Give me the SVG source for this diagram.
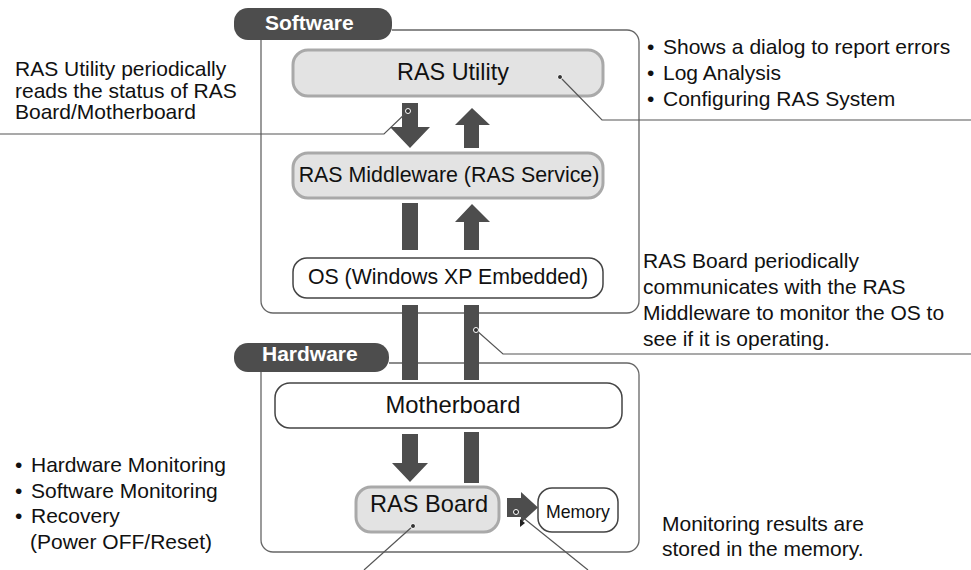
<svg xmlns="http://www.w3.org/2000/svg" width="971" height="570" viewBox="0 0 971 570">
<style>
text{font-family:"Liberation Sans",Arial,Helvetica,sans-serif;fill:#111}
.lbl{font-size:21px}
.tab{font-size:21px;font-weight:bold;fill:#fff}
.frame{fill:none;stroke:#666;stroke-width:1.3}
.gbox{fill:#e3e3e3;stroke:#a9a9a9;stroke-width:3}
.wbox{fill:#fff;stroke:#444;stroke-width:1.5}
.arr{fill:#4d4d4d}
.call{fill:none;stroke:#555;stroke-width:1.2}
.dot{fill:#333;stroke:#fff;stroke-width:1}
.tabbg{fill:#4d4d4d}
</style>
<rect width="971" height="570" fill="#fff"/>

<g id="software-group">
  <path class="frame" d="M392,30 H627 A12,12 0 0 1 639,42 V301 A12,12 0 0 1 627,313 H273 A12,12 0 0 1 261,301 V40"/>
  <rect class="tabbg" x="234" y="8" width="158" height="32" rx="14"/>
  <text class="tab" x="265" y="30">Software</text>
</g>

<g id="hardware-group">
  <path class="frame" d="M389,363 H627 A12,12 0 0 1 639,375 V540 A12,12 0 0 1 627,552 H273 A12,12 0 0 1 261,540 V372"/>
  <rect class="tabbg" x="234" y="343" width="155" height="29" rx="14"/>
  <text class="tab" x="262" y="361">Hardware</text>
</g>

<g id="connectors">
  <polygon class="arr" points="402,103 418,103 418,127 430,127 410,148 390,127 402,127"/>
  <polygon class="arr" points="472,108 490,125 479,125 479,148 464,148 464,125 455,125"/>
  <rect class="arr" x="402" y="203" width="16" height="47"/>
  <polygon class="arr" points="472,204 490,222 479,222 479,250 464,250 464,222 455,222"/>
  <rect class="arr" x="402" y="305" width="16" height="75"/>
  <rect class="arr" x="464" y="305" width="15" height="75"/>
  <polygon class="arr" points="402,434 418,434 418,463 428,463 410,482 392,463 402,463"/>
  <rect class="arr" x="464" y="432" width="15" height="51"/>
  <polygon class="arr" points="507,498 521,498 521,492 538,507.5 521,523 521,517 507,517"/>
  <polygon fill="#222" points="520,519 525,523 520,527"/>
</g>

<g id="ras-utility">
  <rect class="gbox" x="293" y="50" width="310" height="46" rx="15"/>
  <text class="lbl" x="453" y="80" text-anchor="middle" style="font-size:23.4px">RAS Utility</text>
</g>

<g id="ras-middleware">
  <rect class="gbox" x="293" y="153" width="310" height="45" rx="15"/>
  <text class="lbl" x="449" y="182" text-anchor="middle" style="font-size:21.4px">RAS Middleware (RAS Service)</text>
</g>

<g id="os">
  <rect class="wbox" x="293" y="258" width="310" height="40" rx="14"/>
  <text class="lbl" x="448" y="284" text-anchor="middle" style="font-size:21.3px">OS (Windows XP Embedded)</text>
</g>

<g id="motherboard">
  <rect class="wbox" x="275" y="383" width="347" height="45" rx="15"/>
  <text class="lbl" x="453" y="413" text-anchor="middle" style="font-size:23.8px">Motherboard</text>
</g>

<g id="ras-board">
  <rect class="gbox" x="356" y="487" width="143" height="45" rx="15"/>
  <text class="lbl" x="429" y="512" text-anchor="middle" style="font-size:23.6px">RAS Board</text>
</g>

<g id="memory">
  <rect class="wbox" x="538" y="488" width="80" height="44" rx="14"/>
  <text class="lbl" x="578" y="518" text-anchor="middle" style="font-size:17.7px">Memory</text>
</g>

<g id="callouts">
  <polyline class="call" points="560,77 602,120 971,120"/>
  <polyline class="call" points="408,111 384,134 0,134"/>
  <polyline class="call" points="476,330 503,354 971,354"/>
  <polyline class="call" points="413,526 364,570"/>
  <polyline class="call" points="516,512 588,570"/>
  <circle class="dot" cx="560" cy="77" r="2.5"/>
  <circle class="dot" cx="408" cy="111" r="2.5"/>
  <circle class="dot" cx="476" cy="330" r="2.5"/>
  <circle class="dot" cx="413" cy="526" r="2.5"/>
  <circle class="dot" cx="516" cy="512" r="2.5"/>
</g>

<g id="notes">
  <text class="lbl">
    <tspan x="15" y="76">RAS Utility periodically</tspan>
    <tspan x="15" y="97.5">reads the status of RAS</tspan>
    <tspan x="15" y="119">Board/Motherboard</tspan>
  </text>
  <text class="lbl">
    <tspan x="647" y="54">•</tspan><tspan x="663" y="54">Shows a dialog to report errors</tspan>
    <tspan x="647" y="80">•</tspan><tspan x="663" y="80">Log Analysis</tspan>
    <tspan x="647" y="106">•</tspan><tspan x="663" y="106">Configuring RAS System</tspan>
  </text>
  <text class="lbl">
    <tspan x="643" y="268">RAS Board periodically</tspan>
    <tspan x="643" y="294">communicates with the RAS</tspan>
    <tspan x="643" y="320">Middleware to monitor the OS to</tspan>
    <tspan x="643" y="346">see if it is operating.</tspan>
  </text>
  <text class="lbl">
    <tspan x="15" y="472">•</tspan><tspan x="31" y="472">Hardware Monitoring</tspan>
    <tspan x="15" y="497.5">•</tspan><tspan x="31" y="497.5">Software Monitoring</tspan>
    <tspan x="15" y="523">•</tspan><tspan x="31" y="523">Recovery</tspan>
    <tspan x="30" y="548.5">(Power OFF/Reset)</tspan>
  </text>
  <text class="lbl">
    <tspan x="662" y="531">Monitoring results are</tspan>
    <tspan x="662" y="556">stored in the memory.</tspan>
  </text>
</g>
</svg>
